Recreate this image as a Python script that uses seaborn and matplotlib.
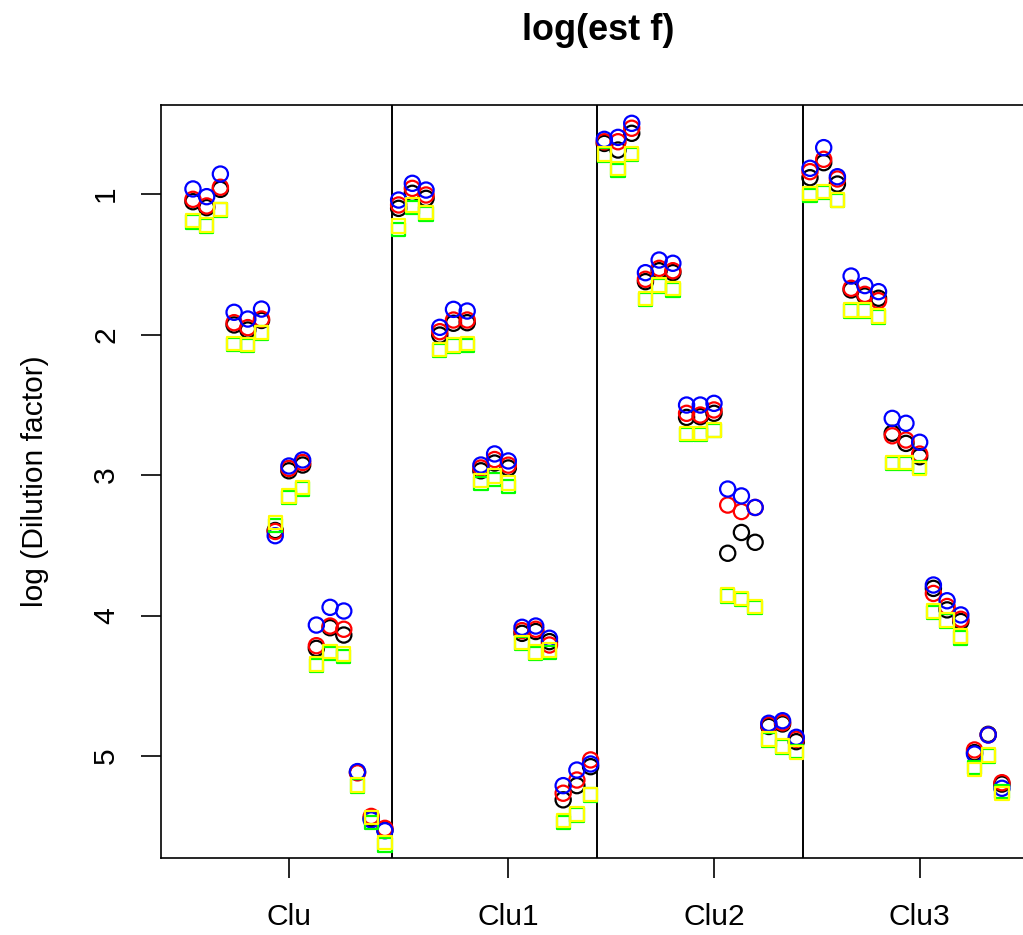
import numpy as np
import pandas as pd
import seaborn as sns
import matplotlib
matplotlib.use("Agg")
import matplotlib.pyplot as plt

# Replicate index along the x axis (5 dilutions x 3 replicates per cluster)
sample_idx = list(range(1, 61))

# log(est f) per method, one value per replicate
est_black = [1.055, 1.097, 0.967, 1.932, 1.968, 1.900, 3.395, 2.970, 2.929, 4.234, 4.087, 4.139, 5.116, 5.444, 5.527,
             1.102, 0.995, 1.031, 2.004, 1.920, 1.916, 2.970, 2.915, 2.950, 4.127, 4.114, 4.186, 5.312, 5.211, 5.076,
             0.640, 0.687, 0.568, 1.624, 1.546, 1.560, 2.590, 2.585, 2.561, 3.557, 3.409, 3.479, 4.790, 4.772, 4.898,
             0.884, 0.777, 0.929, 1.683, 1.726, 1.742, 2.703, 2.775, 2.870, 3.807, 3.960, 4.043, 4.976, 4.846, 5.200]
est_red = [1.038, 1.085, 0.952, 1.916, 1.951, 1.890, 3.402, 2.953, 2.911, 4.215, 4.075, 4.098, 5.120, 5.430, 5.515,
           1.078, 0.960, 1.007, 1.980, 1.897, 1.897, 2.950, 2.890, 2.930, 4.108, 4.098, 4.210, 5.265, 5.171, 5.028,
           0.628, 0.628, 0.532, 1.607, 1.529, 1.546, 2.561, 2.573, 2.537, 3.214, 3.260, 3.231, 4.779, 4.763, 4.881,
           0.841, 0.753, 0.893, 1.671, 1.714, 1.759, 2.721, 2.751, 2.851, 3.843, 3.936, 4.027, 4.957, 4.850, 5.190]
est_blue = [0.964, 1.019, 0.858, 1.842, 1.890, 1.819, 3.432, 2.936, 2.893, 4.068, 3.942, 3.968, 5.111, 5.455, 5.532,
            1.043, 0.924, 0.972, 1.949, 1.821, 1.833, 2.929, 2.850, 2.900, 4.084, 4.075, 4.162, 5.211, 5.100, 5.057,
            0.611, 0.597, 0.497, 1.560, 1.470, 1.493, 2.502, 2.502, 2.490, 3.100, 3.149, 3.231, 4.767, 4.749, 4.867,
            0.817, 0.670, 0.877, 1.584, 1.652, 1.695, 2.597, 2.632, 2.767, 3.783, 3.895, 3.996, 4.986, 4.850, 5.230]
est_green = [1.200, 1.228, 1.114, 2.070, 2.077, 1.990, 3.360, 3.160, 3.100, 4.355, 4.270, 4.293, 5.213, 5.475, 5.633,
             1.251, 1.095, 1.142, 2.115, 2.082, 2.080, 3.060, 3.030, 3.080, 4.200, 4.270, 4.264, 5.475, 5.420, 5.278,
             0.722, 0.834, 0.717, 1.750, 1.655, 1.683, 2.710, 2.710, 2.685, 3.861, 3.886, 3.943, 4.886, 4.936, 4.970,
             1.012, 0.988, 1.047, 1.833, 1.833, 1.875, 2.918, 2.918, 2.946, 3.977, 4.040, 4.160, 5.080, 5.000, 5.254]
est_yellow = [1.190, 1.220, 1.109, 2.063, 2.070, 1.985, 3.336, 3.149, 3.089, 4.345, 4.257, 4.274, 5.206, 5.440, 5.617,
              1.228, 1.078, 1.133, 2.105, 2.075, 2.063, 3.040, 3.007, 3.057, 4.190, 4.260, 4.245, 5.460, 5.413, 5.273,
              0.715, 0.817, 0.710, 1.742, 1.648, 1.671, 2.703, 2.703, 2.680, 3.854, 3.879, 3.936, 4.879, 4.929, 4.976,
              0.995, 0.983, 1.043, 1.826, 1.826, 1.868, 2.911, 2.911, 2.953, 3.968, 4.032, 4.146, 5.094, 4.993, 5.266]

cluster_labels = ["Clu", "Clu1", "Clu2", "Clu3"]
cluster_ticks = [8, 24, 39, 54]
cluster_breaks = [15.5, 30.5, 45.5]

series = [
    ("black", est_black, "o", "black"),
    ("red", est_red, "o", "#FF0000"),
    ("blue", est_blue, "o", "#0000FF"),
    ("green", est_green, "s", "#00FF00"),
    ("yellow", est_yellow, "s", "#FFFF00"),
]

frames = []
for name, vals, mk, col in series:
    frames.append(pd.DataFrame({"idx": sample_idx, "value": vals, "series": name}))
df = pd.concat(frames, ignore_index=True)

sns.set_style("white")
plt.rcParams["font.family"] = ["Liberation Sans", "DejaVu Sans"]
plt.rcParams["text.color"] = "black"
plt.rcParams["axes.labelcolor"] = "black"
plt.rcParams["xtick.color"] = "black"
plt.rcParams["ytick.color"] = "black"

W, H = 1023, 935
fig = plt.figure(figsize=(W / 100, H / 100), dpi=100)
left_px, right_px, top_px, bottom_px = 160.6, 1034.3, 105.0, 858.0
ax = fig.add_axes([left_px / W, 1 - bottom_px / H,
                   (right_px - left_px) / W, (bottom_px - top_px) / H])

for name, vals, mk, col in series:
    sub = df[df["series"] == name]
    size = 120 if mk == "o" else 92
    sns.scatterplot(data=sub, x="idx", y="value", marker=mk, s=size, ax=ax,
                    color=col, legend=False, zorder=3)
    coll = ax.collections[-1]
    coll.set_facecolor("none")
    coll.set_edgecolor(col)
    coll.set_linewidth(1.6)

for xb in cluster_breaks:
    ax.axvline(xb, color="black", lw=1.4, zorder=2)

ax.set_xlim(-1.36, 62.36)
ax.set_ylim(5.726, 0.3665)

ax.set_yticks([1, 2, 3, 4, 5])
ax.set_yticklabels(["1", "2", "3", "4", "5"])
ax.set_xticks(cluster_ticks)
ax.set_xticklabels(cluster_labels)

ax.tick_params(axis="y", length=14.4, width=1.2, pad=14.8, labelsize=21.6,
               labelrotation=90, direction="out", left=True,
               colors="black", labelcolor="black")
ax.tick_params(axis="x", length=14.4, width=1.2, pad=18, labelsize=21.6,
               direction="out", bottom=True, colors="black", labelcolor="black")
for lbl in ax.get_yticklabels():
    lbl.set_va("center")

for sp in ax.spines.values():
    sp.set_color("black")
    sp.set_linewidth(1.2)

ax.set_xlabel("")
ax.set_ylabel("log (Dilution factor)", fontsize=21.6, color="black")
ax.yaxis.set_label_coords(-0.1277, 0.5)

fig.text(598.6 / W, 1 - 31 / H, "log(est f)", ha="center", va="center",
         fontsize=25.9, fontweight="bold", color="black")

fig.savefig("out.png", dpi=100)
